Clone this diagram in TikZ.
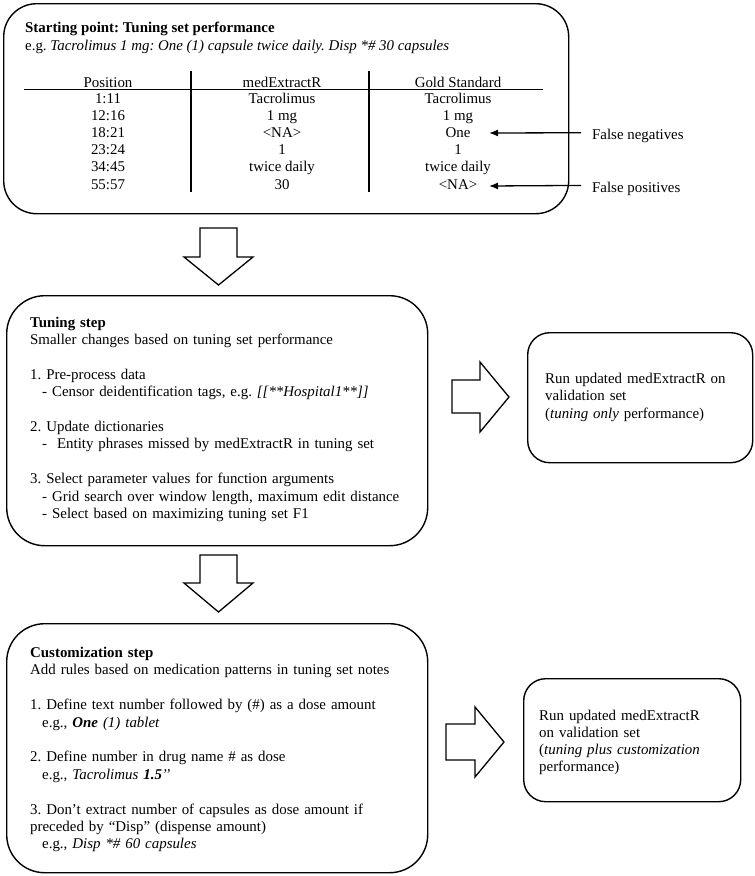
\documentclass[tikz,border=0pt]{standalone}
\usepackage{fontspec}
\setmainfont{Liberation Serif}
\usetikzlibrary{arrows.meta}
\frenchspacing
\begin{document}
\begin{tikzpicture}[x=1pt,y=-1pt,
  box/.style={draw, line width=1.4pt, inner sep=0pt, anchor=north west},
  txt/.style={font=\fontsize{14.9}{17.4}\selectfont\frenchspacing, inner sep=0pt},
  cell/.style={txt, anchor=base},
  para/.style={txt, anchor=base west, align=left},
  blockarrow/.style={draw, line width=1.3pt, fill=white, line join=miter},
  rulestyle/.style={line width=1.4pt},
  ptr/.style={line width=1.3pt, -{Latex[length=9pt,width=7pt]}},
]
\useasboundingbox (0,0) rectangle (755,876);

% ---------- boxes ----------
\node[box, rounded corners=33pt, minimum width=565pt, minimum height=210pt] (start) at (3,3) {};
\node[box, rounded corners=38pt, minimum width=421pt, minimum height=250pt] (tune) at (6,295) {};
\node[box, rounded corners=22pt, minimum width=225pt, minimum height=130pt] (runA) at (527,332) {};
\node[box, rounded corners=38pt, minimum width=421pt, minimum height=249pt] (cust) at (6,623) {};
\node[box, rounded corners=22pt, minimum width=217pt, minimum height=123pt] (runB) at (523,678) {};

% ---------- box 1 content ----------
\node[para] (h1) at (25,32.5) {\textbf{Starting point: Tuning set performance}};
\node[para] (eg1) at (25,50.5) {e.g. \textit{Tacrolimus 1 mg: One (1) capsule twice daily. Disp *\# 30 capsules}};

\node[cell] (hp) at (108,87) {Position};
\node[cell] (hm) at (282,87) {medExtractR};
\node[cell] (hg) at (458,87) {Gold Standard};

\draw[rulestyle] (24,89.5) -- (543,89.5);
\draw[line width=1.3pt] (191,71) -- (191,192);
\draw[line width=1.3pt] (369,71) -- (369,192);

\node[cell] (p1) at (108,103.5) {1:11};
\node[cell] (m1) at (282,103.5) {Tacrolimus};
\node[cell] (g1) at (458,103.5) {Tacrolimus};
\node[cell] (p2) at (108,120.6) {12:16};
\node[cell] (m2) at (282,120.6) {1 mg};
\node[cell] (g2) at (458,120.6) {1 mg};
\node[cell] (p3) at (108,137.7) {18:21};
\node[cell] (m3) at (282,137.7) {<NA>};
\node[cell] (g3) at (458,137.7) {One};
\node[cell] (p4) at (108,154.8) {23:24};
\node[cell] (m4) at (282,154.8) {1};
\node[cell] (g4) at (458,154.8) {1};
\node[cell] (p5) at (108,171.9) {34:45};
\node[cell] (m5) at (282,171.9) {twice daily};
\node[cell] (g5) at (458,171.9) {twice daily};
\node[cell] (p6) at (108,189) {55:57};
\node[cell] (m6) at (282,189) {30};
\node[cell] (g6) at (458,189) {<NA>};

\node[para] (fn) at (592,139.3) {False negatives};
\node[para] (fp) at (592,192) {False positives};
\coordinate (fnTip) at (489,133);
\coordinate (fpTip) at (489,186);
\draw[ptr] ([xshift=-11pt,yshift=3pt]fn.west) -- (fnTip);
\draw[ptr] ([xshift=-11pt,yshift=3pt]fp.west) -- (fpTip);

% ---------- block arrows ----------
\draw[blockarrow] (200,228) -- (237,228) -- (237,257) -- (253,257) -- (218.5,285) -- (184,257) -- (200,257) -- cycle;
\draw[blockarrow] (200,555) -- (237,555) -- (237,583) -- (253,583) -- (218.5,612) -- (184,583) -- (200,583) -- cycle;
\draw[blockarrow] (452,380) -- (480,380) -- (480,362) -- (509,397) -- (480,432) -- (480,413) -- (452,413) -- cycle;
\draw[blockarrow] (446,724) -- (475,724) -- (475,707) -- (504,742) -- (475,777) -- (475,760) -- (446,760) -- cycle;

% ---------- tuning step ----------
\node[para, text width=400pt] (t2) at (30,327) {\textbf{Tuning step}\\
Smaller changes based on tuning set performance\\[17.4pt]
1. Pre-process data\\
\hspace*{12pt}- Censor deidentification tags, e.g. \textit{[[**Hospital1**]]}\\[17.4pt]
2. Update dictionaries\\
\hspace*{12pt}-\ \ Entity phrases missed by medExtractR in tuning set\\[17.4pt]
3. Select parameter values for function arguments\\
\hspace*{12pt}- Grid search over window length, maximum edit distance\\
\hspace*{12pt}- Select based on maximizing tuning set F1};

\node[para, text width=205pt, font=\fontsize{14.9}{17.5}\selectfont] (t3) at (545,383) {Run updated medExtractR on\\
validation set\\
(\textit{tuning only} performance)};

% ---------- customization step ----------
\node[para, text width=400pt] (t4) at (30,657.5) {\textbf{Customization step}\\
Add rules based on medication patterns in tuning set notes\\[17.4pt]
1. Define text number followed by (\#) as a dose amount\\
\hspace*{12pt}e.g., \textbf{\textit{One}} \textit{(1) tablet}\\[17.4pt]
2. Define number in drug name \# as dose\\
\hspace*{12pt}e.g., \textit{Tacrolimus \textbf{1.5}’’}\\[17.4pt]
3. Don’t extract number of capsules as dose amount if\\
preceded by “Disp” (dispense amount)\\
\hspace*{12pt}e.g., \textit{Disp *\# 60 capsules}};

\node[para, text width=200pt, font=\fontsize{14.9}{17}\selectfont] (t5) at (539,720) {Run updated medExtractR\\
on validation set\\
(\textit{tuning plus customization}\\
performance)};
\end{tikzpicture}
\end{document}
